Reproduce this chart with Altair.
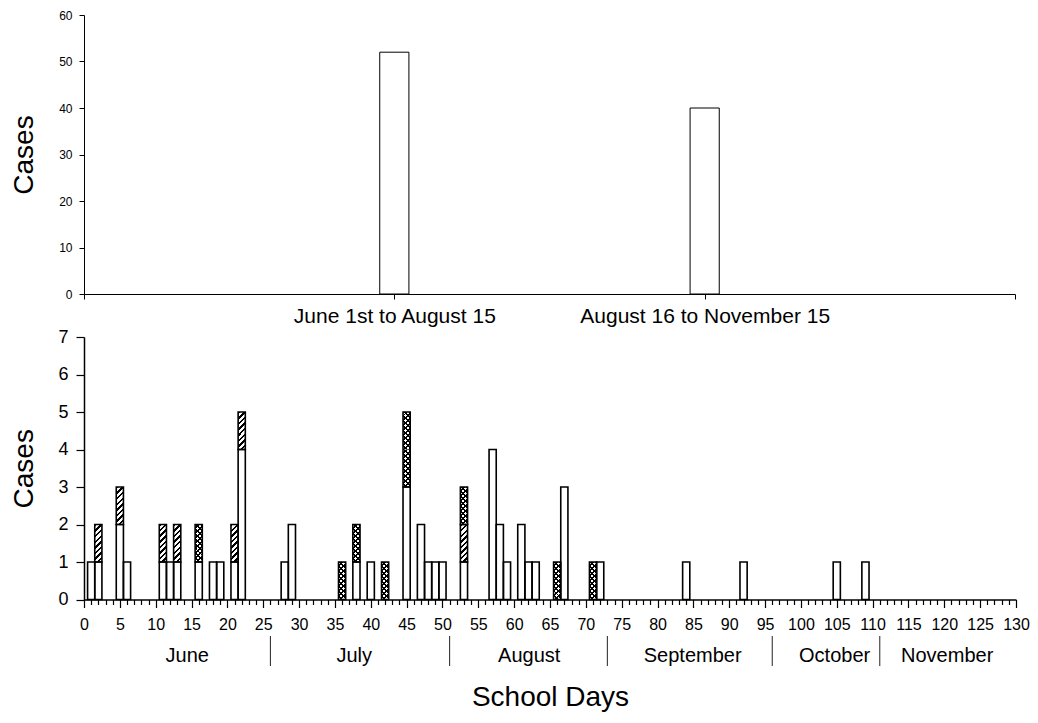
import altair as alt
import pandas as pd

# ---------------- data ----------------
period_labels = ["June 1st to August 15", "August 16 to November 15"]
period_pos = [1, 2]
period_cases = [52, 40]

days = [1, 2, 5, 6, 11, 12, 13, 16, 18, 19, 21, 22, 28, 29, 36, 38, 40, 42, 45,
        47, 48, 49, 50, 53, 57, 58, 59, 61, 62, 63, 66, 67, 71, 72, 84, 92, 105, 109]
white_cases = [1, 1, 2, 1, 1, 1, 1, 1, 1, 1, 1, 4, 1, 2, 0, 1, 1, 0, 3,
               2, 1, 1, 1, 1, 4, 2, 1, 2, 1, 1, 0, 3, 0, 1, 1, 1, 1, 1]
hatched_cases = [0, 1, 1, 0, 1, 0, 1, 0, 0, 0, 1, 1, 0, 0, 0, 0, 0, 0, 0,
                 0, 0, 0, 0, 1, 0, 0, 0, 0, 0, 0, 0, 0, 0, 0, 0, 0, 0, 0]
dotted_cases = [0, 0, 0, 0, 0, 0, 0, 1, 0, 0, 0, 0, 0, 0, 1, 1, 0, 1, 2,
                0, 0, 0, 0, 1, 0, 0, 0, 0, 0, 0, 1, 0, 1, 0, 0, 0, 0, 0]

month_names = ["June", "July", "August", "September", "October", "November"]
month_centers = [14.4, 37.7, 62.1, 84.9, 104.7, 120.4]
month_breaks = [26, 51, 73, 96, 111]

FONT = "Liberation Sans"

# ---------------- tables ----------------
cats = [("white", white_cases), ("hatched", hatched_cases), ("dotted", dotted_cases)]
seg_rows, unit_rows = [], []
for i, d in enumerate(days):
    for order, (cname, arr) in enumerate(cats):
        n = arr[i]
        if n > 0:
            seg_rows.append({"day": d, "cat": cname, "order": order, "n": n})
            for k in range(n):
                unit_rows.append({"day": d, "cat": cname, "order": order, "k": k, "n": 1})
seg_df = pd.DataFrame(seg_rows)
unit_df = pd.DataFrame(unit_rows)
top_df = pd.DataFrame({"period": period_labels, "pos": period_pos, "cases": period_cases})
months_df = pd.DataFrame({"name": month_names, "mday": month_centers})
breaks_df = pd.DataFrame({"mbreak": month_breaks})

# ---------------- top chart ----------------
label_expr = " : ".join(
    f"datum.value == {p} ? '{l}'" for p, l in zip(period_pos, period_labels)
) + " : ''"

top = alt.Chart(top_df).transform_calculate(
    x0="datum.pos - 0.047", x1="datum.pos + 0.047"
).mark_rect(fill="white", stroke="black", strokeWidth=1).encode(
    x=alt.X("x0:Q", scale=alt.Scale(domain=[0, 3], nice=False, zero=False),
            axis=alt.Axis(values=[0, 1, 2, 3], labelExpr=label_expr, title=None,
                          tickSize=5, labelPadding=6, labelFontSize=21, labelLimit=500,
                          labelFlush=False, labelOverlap=False, grid=False,
                          domainWidth=1, tickWidth=1)),
    x2="x1:Q",
    y=alt.Y("cases:Q", scale=alt.Scale(domain=[0, 60], nice=False),
            axis=alt.Axis(values=list(range(0, 61, 10)), title="Cases",
                          titleFontSize=28, titleFontWeight="normal",
                          titleAngle=270, titleBaseline="bottom", titleX=-46,
                          labelFontSize=12, tickSize=5, labelPadding=7, grid=False,
                          domainWidth=1, tickWidth=1)),
    y2=alt.datum(0),
).properties(width=931, height=279)

# ---------------- bottom chart ----------------
xaxis = alt.Axis(values=list(range(0, 131)),
                 labelExpr="datum.value % 5 === 0 ? datum.label : ''",
                 tickSize={"condition": {"test": "datum.value % 5 === 0", "value": 8}, "value": 5},
                 labelPadding=9, labelFontSize=16, labelFlush=False, labelOverlap=False,
                 title="School Days", titleFontSize=28, titleFontWeight="normal",
                 titlePadding=51, grid=False, domainWidth=1.5, tickWidth=1.2)
yaxis = alt.Axis(values=list(range(0, 8)), title="Cases", titleFontSize=28,
                 titleFontWeight="normal", titleAngle=270, titleBaseline="bottom",
                 titleX=-46, labelFontSize=18, tickSize=8, labelPadding=8, grid=False,
                 domainWidth=1.5, tickWidth=1.2)
xscale = alt.Scale(domain=[0, 130], nice=False, zero=False)
yscale = alt.Scale(domain=[0, 7], nice=False)


def X(field):
    return alt.X(f"{field}:Q", scale=xscale, axis=xaxis)


def stacked(df, sort_fields):
    return alt.Chart(df).transform_stack(
        stack="n", groupby=["day"],
        sort=[alt.SortField(f, order="ascending") for f in sort_fields],
        as_=["y0", "y1"],
    ).transform_calculate(xa="datum.day - 0.5", xb="datum.day + 0.5")


enc = dict(x=X("xa"), x2=alt.X2("xb:Q"),
           y=alt.Y("y0:Q", scale=yscale, axis=yaxis), y2=alt.Y2("y1:Q"))


def stripes(n, frac, c_on, c_off, x1, y1, x2, y2):
    stops = []
    for i in range(n):
        s, m, e = i / n, (i + frac) / n, (i + 1) / n
        stops += [alt.GradientStop(offset=s, color=c_on),
                  alt.GradientStop(offset=m, color=c_on),
                  alt.GradientStop(offset=m, color=c_off),
                  alt.GradientStop(offset=e, color=c_off)]
    return alt.Gradient(gradient="linear", stops=stops, x1=x1, y1=y1, x2=x2, y2=y2)


A, B = 0.2205, 1.15
hatch_fill = stripes(8, 0.45, "black", "white", 0, 0, A, B)
dot_white = stripes(9, 0.6, "white", "rgba(0,0,0,0)", 0, 0, A, B)
dot_black = stripes(9, 0.4, "black", "rgba(0,0,0,0)", 1, 0, 1 - A, B)

white_layer = stacked(seg_df, ["order"]).mark_rect(fill="white").encode(**enc)
hatch_layer = stacked(unit_df, ["order", "k"]).transform_filter(
    "datum.cat == 'hatched'").mark_rect(fill=hatch_fill).encode(**enc)
dot_base = stacked(unit_df, ["order", "k"]).transform_filter(
    "datum.cat == 'dotted'").mark_rect(fill="black").encode(**enc)
dot_w = stacked(unit_df, ["order", "k"]).transform_filter(
    "datum.cat == 'dotted'").mark_rect(fill=dot_white).encode(**enc)
dot_b = stacked(unit_df, ["order", "k"]).transform_filter(
    "datum.cat == 'dotted'").mark_rect(fill=dot_black).encode(**enc)
outline = stacked(seg_df, ["order"]).mark_rect(
    fillOpacity=0, stroke="black", strokeWidth=1.6).encode(**enc)

month_text = alt.Chart(months_df).mark_text(
    fontSize=20, baseline="alphabetic", align="center", color="black", font=FONT
).encode(x=X("mday"), y=alt.value(325), text="name:N")
month_rules = alt.Chart(breaks_df).mark_rule(color="#222222", strokeWidth=1).encode(
    x=X("mbreak"), y=alt.value(299), y2=alt.value(329))

bottom = alt.layer(white_layer, hatch_layer, dot_base, dot_w, dot_b, outline,
                   month_text, month_rules).properties(width=932, height=262.5)

chart = alt.vconcat(top, bottom, spacing=0).properties(
    padding={"top": 0, "bottom": 0, "left": 1, "right": 0}
).configure(font=FONT).configure_view(stroke="transparent").configure_axis(
    domainColor="black", tickColor="black", labelColor="black", titleColor="black",
    labelFont=FONT, titleFont=FONT)

chart.save("out.html", embed_options={"renderer": "svg", "actions": False})
